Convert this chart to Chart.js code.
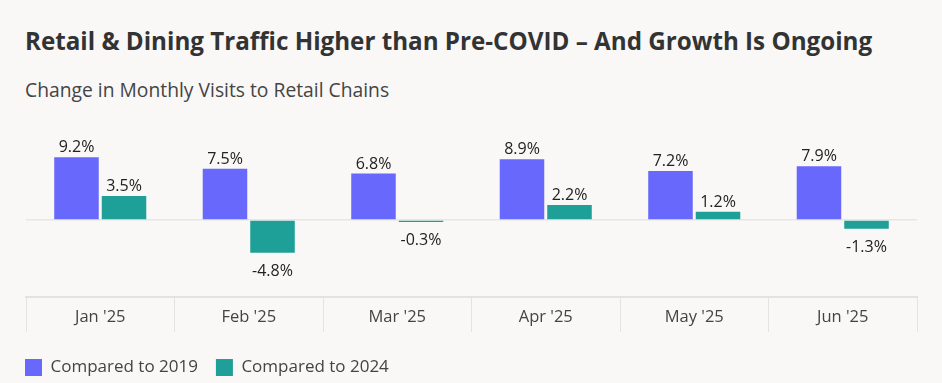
<!DOCTYPE html>
<html>
<head>
<meta charset="utf-8">
<script src="https://cdn.jsdelivr.net/npm/chart.js@4"></script>
<style>
  html, body { margin: 0; padding: 0; background: #f9f8f7; }
  body { width: 942px; height: 383px; position: relative; overflow: hidden; font-family: "Open Sans", sans-serif; }
  #title { position: absolute; left: 25px; top: 29px; font-size: 24.2px; line-height: 24px; font-weight: 700; color: #333; white-space: nowrap; }
  #subtitle { position: absolute; left: 25px; top: 80px; font-size: 19.3px; line-height: 19px; font-weight: 400; color: #444; white-space: nowrap; }
  #wrap { position: absolute; left: 0; top: 0; width: 942px; height: 383px; }
</style>
</head>
<body>
<div id="title">Retail &amp; Dining Traffic Higher than Pre-COVID – And Growth Is Ongoing</div>
<div id="subtitle">Change in Monthly Visits to Retail Chains</div>
<div id="wrap"><canvas id="c" width="942" height="383"></canvas></div>
<script>
const categories = ["Jan '25", "Feb '25", "Mar '25", "Apr '25", "May '25", "Jun '25"];
const seriesNames = ["Compared to 2019", "Compared to 2024"];
const vs2019 = [9.2, 7.5, 6.8, 8.9, 7.2, 7.9];
const vs2024 = [3.5, -4.8, -0.3, 2.2, 1.2, -1.3];
const colors = ["#6868fc", "#1e9f98"];

const valueLabels = {
  id: 'valueLabels',
  afterDatasetsDraw(chart) {
    const ctx = chart.ctx;
    ctx.save();
    ctx.font = '400 16px "Open Sans"';
    ctx.fillStyle = '#222';
    ctx.textAlign = 'center';
    ctx.textBaseline = 'alphabetic';
    chart.data.datasets.forEach((ds, i) => {
      const meta = chart.getDatasetMeta(i);
      meta.data.forEach((el, j) => {
        const v = ds.data[j];
        const txt = v.toFixed(1) + '%';
        if (v >= 0) ctx.fillText(txt, el.x, el.y - 5);
        else ctx.fillText(txt, el.x, el.y + 23);
      });
    });
    ctx.restore();
  }
};

new Chart(document.getElementById('c'), {
  type: 'bar',
  data: {
    labels: categories,
    datasets: [
      { label: seriesNames[0], data: vs2019, backgroundColor: colors[0] },
      { label: seriesNames[1], data: vs2024, backgroundColor: colors[1] }
    ]
  },
  options: {
    responsive: false,
    animation: false,
    devicePixelRatio: 1,
    layout: { padding: { left: 7, right: 25, top: 130, bottom: -3 } },
    datasets: { bar: { categoryPercentage: 0.64, barPercentage: 0.937 } },
    plugins: {
      tooltip: { enabled: false },
      title: { display: false },
      legend: {
        display: true,
        position: 'bottom',
        align: 'start',
        labels: {
          boxWidth: 17, boxHeight: 17, padding: 18,
          color: '#444',
          font: { family: '"Open Sans"', size: 17 }
        }
      }
    },
    scales: {
      x: {
        grid: { offset: true, drawOnChartArea: false, drawTicks: true, tickLength: 35, color: '#e3e3e3', lineWidth: 1 },
        border: { display: true, color: '#e2e2e2', width: 2 },
        ticks: { color: '#444', font: { family: '"Open Sans"', size: 16.5 }, padding: -25 },
        afterFit: (s) => { s.height = 44; }
      },
      y: {
        min: -11.3, max: 13.2,
        ticks: { display: false, stepSize: 5 },
        border: { display: false },
        grid: {
          drawTicks: false,
          color: (c) => (c.tick && c.tick.value === 0) ? '#e6e6e6' : 'rgba(0,0,0,0)',
          lineWidth: 1.5
        },
        afterFit: (s) => { s.width = 19; }
      }
    }
  },
  plugins: [valueLabels]
});
</script>
</body>
</html>
